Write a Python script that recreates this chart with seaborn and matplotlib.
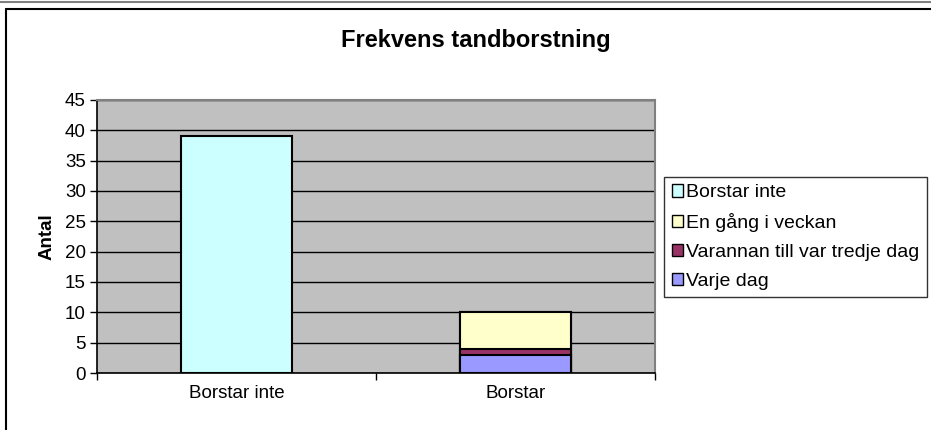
import pandas as pd
import matplotlib
matplotlib.use('Agg')
import matplotlib.pyplot as plt
from matplotlib.patches import Patch
from matplotlib.lines import Line2D
import seaborn as sns

sns.set_style('white')
plt.rcParams['font.family'] = ['Liberation Sans', 'DejaVu Sans']
plt.rcParams['text.color'] = 'black'
plt.rcParams['axes.labelcolor'] = 'black'
plt.rcParams['xtick.color'] = 'black'
plt.rcParams['ytick.color'] = 'black'

categories = ['Borstar inte', 'Borstar']
# stapelordning nerifrån och upp
series = ['Varje dag', 'Varannan till var tredje dag', 'En gång i veckan', 'Borstar inte']
values = {
    'Varje dag': [0, 3],
    'Varannan till var tredje dag': [0, 1],
    'En gång i veckan': [0, 6],
    'Borstar inte': [39, 0],
}
colors = {
    'Varje dag': '#9999FF',
    'Varannan till var tredje dag': '#993366',
    'En gång i veckan': '#FFFFCC',
    'Borstar inte': '#CCFFFF',
}
legend_order = ['Borstar inte', 'En gång i veckan', 'Varannan till var tredje dag', 'Varje dag']
yticks = [0, 5, 10, 15, 20, 25, 30, 35, 40, 45]

df = pd.DataFrame(values, index=categories)
cum = df[series].cumsum(axis=1)

fig = plt.figure(figsize=(9.31, 4.30), dpi=100)
ax = fig.add_axes([97 / 931, 1 - 373 / 430, 558 / 931, 273 / 430])
ax.set_facecolor('#C0C0C0')

# ritar kumulativa staplar ovanifrån så de lägre täcker
for s in reversed(series):
    d = pd.DataFrame({'kat': categories, 'v': cum[s].values})
    d = d[d['v'] > 0]
    sns.barplot(data=d, x='kat', y='v', order=categories, color=colors[s],
                width=0.4, edgecolor='black', linewidth=1.5, saturation=1, ax=ax, zorder=3)

ax.set_ylim(0, 45)
ax.set_xlim(-0.5, 1.5)
ax.set_yticks(yticks)
ax.yaxis.grid(True, color='black', linewidth=1)
ax.set_axisbelow(True)
ax.tick_params(axis='y', length=5, width=1, color='black', labelsize=13.5, pad=3, left=True)
ax.tick_params(axis='x', length=0, labelsize=13.5, pad=9)
ax.set_xticks([-0.5, 0.5, 1.5], minor=True)
ax.tick_params(axis='x', which='minor', length=5, width=1, color='black', bottom=True)
ax.set_xlabel('')
ax.set_ylabel('Antal', fontsize=13.5, fontweight='bold', labelpad=7)

for side in ['top', 'right']:
    ax.spines[side].set_color('#808080')
    ax.spines[side].set_linewidth(1.5)
for side in ['left', 'bottom']:
    ax.spines[side].set_color('black')
    ax.spines[side].set_linewidth(1.2)

fig.text(476 / 931, 1 - 40 / 430, 'Frekvens tandborstning', ha='center', va='center',
         fontsize=17, fontweight='bold')

handles = [Patch(facecolor=colors[s], edgecolor='black', linewidth=1) for s in legend_order]
leg = fig.legend(handles, legend_order, loc='center left', bbox_to_anchor=(664 / 931, 1 - 237 / 430),
                 fontsize=14, frameon=True, fancybox=False, handlelength=0.6, handleheight=0.6,
                 handletextpad=0.15, labelspacing=0.6, borderpad=0.4, borderaxespad=0)
leg.get_frame().set_edgecolor('black')
leg.get_frame().set_linewidth(1)

# yttre ram
fig.add_artist(Line2D([6 / 931, 1], [1 - 9 / 430, 1 - 9 / 430], color='black', linewidth=1.5))
fig.add_artist(Line2D([6 / 931, 6 / 931], [0, 1 - 9 / 430], color='black', linewidth=1.5))
fig.add_artist(Line2D([0, 1], [1 - 2 / 430, 1 - 2 / 430], color='#808080', linewidth=1.5))

plt.savefig('out.png', dpi=100)
